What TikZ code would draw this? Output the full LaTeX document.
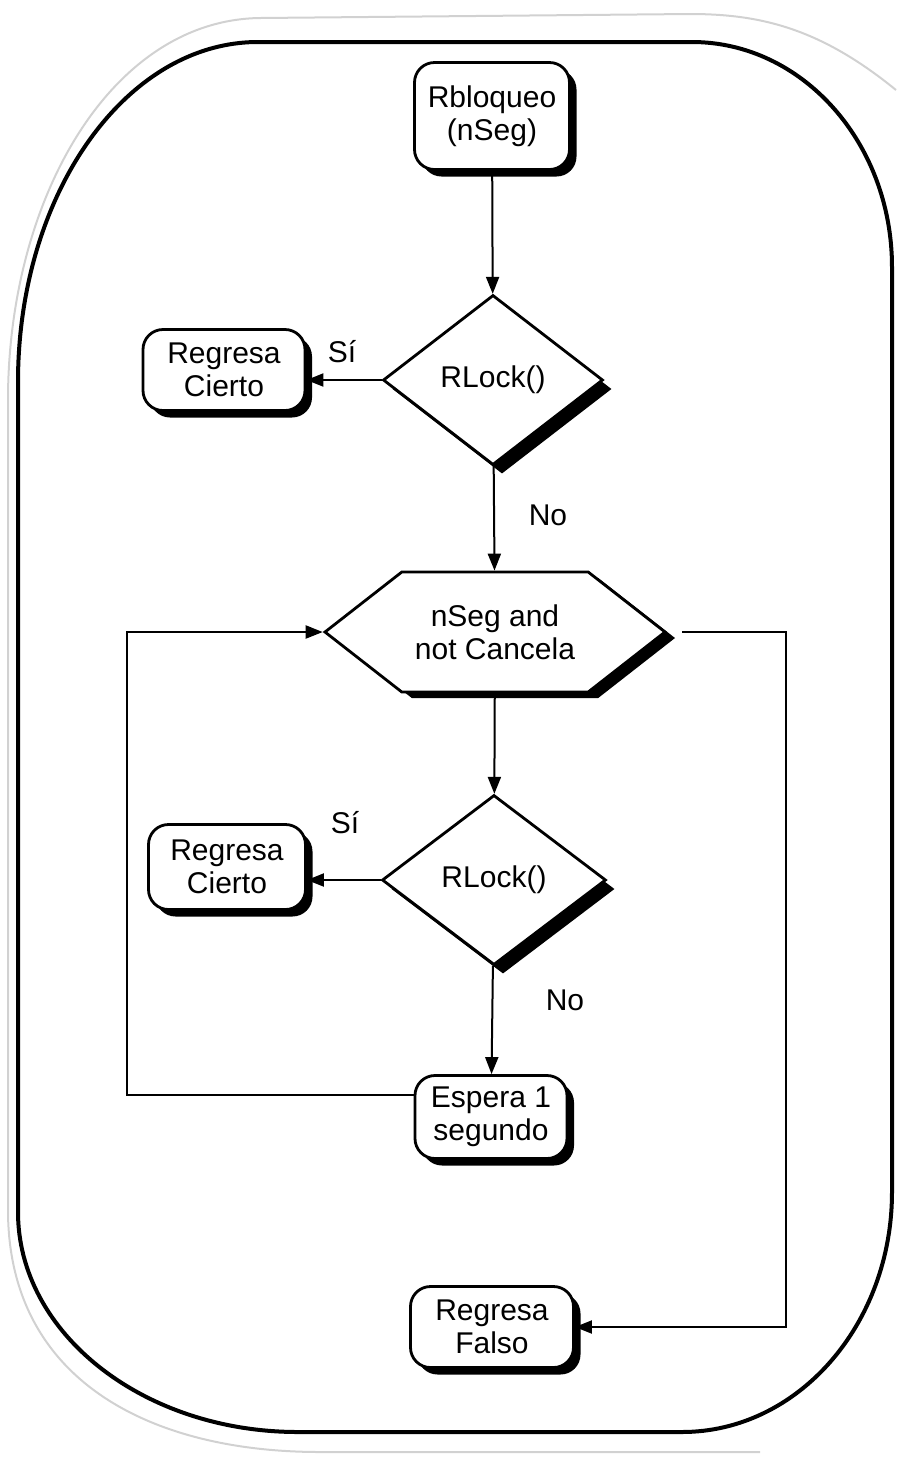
\documentclass[tikz,border=0pt]{standalone}
\usepackage{fontspec}
\setmainfont{Liberation Sans}
\usetikzlibrary{arrows.meta,positioning,shapes.geometric,shapes.symbols,shadows}

\begin{document}
\begin{tikzpicture}[
x=0.5pt, y=-0.5pt,
font=\fontsize{15}{16.5}\selectfont,
box/.style={rectangle, draw, line width=1.4pt, rounded corners=10pt, fill=white, align=center, inner sep=2pt,
  drop shadow={shadow xshift=3.5pt, shadow yshift=-3.5pt, fill=black, opacity=1}},
decision/.style={diamond, draw, line width=1.4pt, fill=white, inner sep=0pt, minimum width=110pt, minimum height=85pt,
  drop shadow={shadow xshift=4.5pt, shadow yshift=-4.5pt, fill=black, opacity=1}},
loopcond/.style={signal, signal to=west and east, signal pointer angle=76, draw, line width=1.4pt, fill=white, align=center,
  inner sep=0pt, minimum width=170pt, minimum height=60pt,
  drop shadow={shadow xshift=5pt, shadow yshift=-3pt, fill=black, opacity=1}},
flow/.style={line width=1pt, -{Triangle[length=8.5pt,width=6.5pt]}},
lbl/.style={inner sep=0pt}
]
\useasboundingbox (0,0) rectangle (896,1458);
% page edge of the scan
\draw[black!18, line width=1pt] (896,90) .. controls (820,28) and (760,14) .. (690,14) -- (260,18)
  .. controls (110,20) and (8,200) .. (8,400) -- (8,1210) .. controls (8,1380) and (150,1452) .. (320,1452) -- (760,1452);
% frame
\draw[line width=2pt] (258,42) -- (692,42) .. controls (802.4,42) and (892,142.8) .. (892,267)
  -- (892,1192) .. controls (892,1324.5) and (797.9,1432) .. (682,1432)
  -- (298,1432) .. controls (143.4,1432) and (18,1333.4) .. (18,1212)
  -- (18,382) .. controls (18,194.3) and (125.5,42) .. (258,42) -- cycle;

\node[box, minimum width=77.5pt, minimum height=53.5pt] (start) at (492,116) {Rbloqueo\\(nSeg)};
\node[decision] (lock1) at (493,380) {RLock()};
\node[box, minimum width=81pt, minimum height=40.5pt] (cierto1) at (224,370) {Regresa\\Cierto};
\node[loopcond] (cond) at (495,632) {nSeg and\\not Cancela};
\node[decision, minimum width=112pt] (lock2) at (494,880) {RLock()};
\node[box, minimum width=78.5pt, minimum height=42.5pt] (cierto2) at (227,867) {Regresa\\Cierto};
\node[box, minimum width=76pt, minimum height=41.5pt] (espera) at (491,1117) {Espera 1\\segundo};
\node[box, minimum width=81.5pt, minimum height=40.5pt] (falso) at (492,1327) {Regresa\\Falso};

\node[lbl] (si1) at (342,352) {Sí};
\node[lbl] (no1) at (548,515) {No};
\node[lbl] (si2) at (345,823) {Sí};
\node[lbl] (no2) at (565,1000) {No};

\coordinate (loopL) at (127,632);
\coordinate (loopR) at (786,632);

\draw[flow] (start) -- (lock1);
\draw[flow] (lock1.west) -- (lock1.west -| cierto1.east);
\draw[flow] (lock1) -- (cond);
\draw[flow] (cond) -- (lock2);
\draw[flow] (lock2.west) -- (lock2.west -| cierto2.east);
\draw[flow] (lock2) -- (espera);
\draw[flow] ([yshift=11pt]espera.west) -| (loopL) -- (cond.west);
\draw[flow] ([xshift=7.5pt]cond.east) -- (loopR) |- (falso.east);
\end{tikzpicture}
\end{document}
